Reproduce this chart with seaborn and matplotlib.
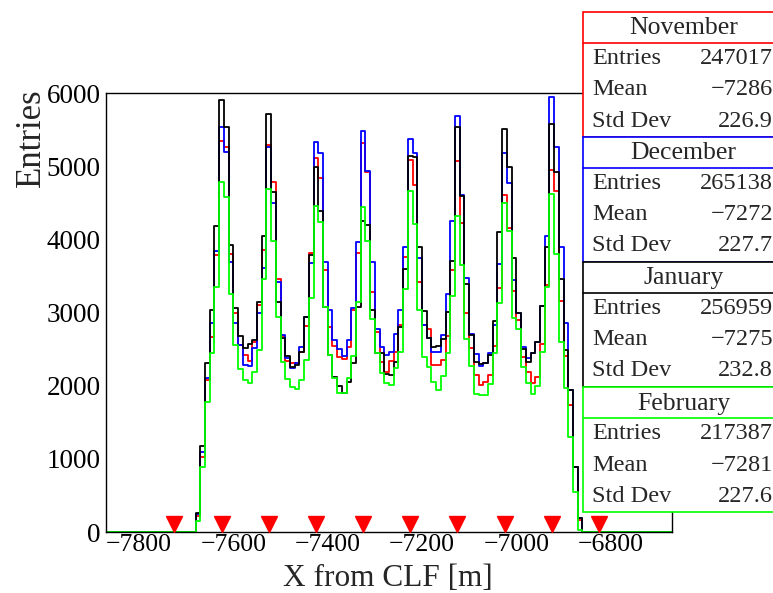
import numpy as np
import pandas as pd
import matplotlib
matplotlib.use("Agg")
import matplotlib.pyplot as plt
from matplotlib.patches import Rectangle
from matplotlib.ticker import MultipleLocator
import seaborn as sns

# ---------------- data ----------------
hist_range = (-7870, -6670)
bin_width = 10
first_filled_bin = -7680   # left edge of first non-empty bin

november = [
    220, 1030, 2080, 2670, 3785, 5350, 5265, 3800, 2990, 2555,
    2420, 2340, 2600, 3100, 3850, 5290, 4790, 3455, 2680, 2340,
    2305, 2305, 2465, 2815, 3810, 5115, 4835, 3580, 2805, 2545,
    2395, 2365, 2530, 3035, 3820, 5310, 4925, 3285, 2730, 2330,
    2190, 2340, 2465, 2830, 3765, 5085, 4745, 3420, 2830, 2770,
    2285, 2280, 2350, 2680, 3580, 5075, 4220, 2990, 2510, 2145,
    2010, 2055, 2145, 2540, 3330, 4605, 4150, 3300, 2900, 2395,
    2180, 2030, 2125, 2570, 3375, 4950, 4665, 3160, 2405, 1735,
    895, 165]
december = [
    240, 1100, 2100, 2850, 3845, 5530, 5200, 3695, 2850, 2555,
    2285, 2270, 2510, 2990, 3605, 5265, 4490, 3420, 2695, 2375,
    2235, 2315, 2525, 2945, 3680, 5325, 5175, 3695, 3035, 2625,
    2495, 2400, 2620, 3055, 3960, 5485, 4940, 3685, 2775, 2525,
    2420, 2465, 2700, 3035, 3890, 5365, 5175, 3740, 2830, 2645,
    2465, 2465, 2695, 3255, 4255, 5685, 4605, 3465, 2700, 2430,
    2270, 2305, 2440, 2830, 3665, 5185, 4765, 3445, 2990, 2535,
    2375, 2440, 2600, 3090, 4045, 5950, 5265, 3890, 2850, 1940,
    895, 185]
january = [
    260, 1175, 2310, 3040, 4180, 5905, 5540, 3925, 3055, 2680,
    2510, 2570, 2625, 3150, 4045, 5715, 4650, 3150, 2645, 2410,
    2250, 2285, 2465, 2945, 3785, 4985, 4390, 3080, 2420, 2120,
    1990, 1905, 2050, 2315, 3070, 4255, 4195, 3035, 2440, 2440,
    2160, 2145, 2330, 2805, 3590, 5140, 5120, 3900, 3025, 2645,
    2535, 2540, 2635, 3010, 3700, 5530, 4590, 3390, 2695, 2330,
    2295, 2315, 2420, 2885, 4105, 5505, 4985, 3740, 2990, 2495,
    2330, 2440, 2600, 3090, 3890, 5575, 4925, 3455, 2490, 1940,
    895, 185]
february = [
    150, 890, 1780, 2440, 3345, 4790, 4575, 3255, 2555, 2225,
    2075, 2030, 2190, 2490, 3460, 4685, 3980, 2945, 2330, 2085,
    1975, 1955, 2075, 2350, 3205, 4455, 4240, 3080, 2420, 2100,
    1895, 1895, 2100, 2400, 3145, 4440, 3980, 2905, 2440, 2170,
    2040, 2010, 2235, 2465, 3320, 4665, 4210, 3035, 2395, 2260,
    2055, 1940, 2130, 2450, 3230, 4320, 3650, 2635, 2270, 1885,
    1870, 1870, 2025, 2450, 3125, 4490, 4120, 2920, 2770, 2260,
    2040, 1885, 1995, 2465, 3345, 4620, 3800, 2600, 1965, 1295,
    550, 25]

months = ["November", "December", "January", "February"]
month_colors = ["#ff0000", "#0000ff", "#000000", "#00ff00"]
entries = ["247017", "265138", "256959", "217387"]
means = ["\u22127286", "\u22127272", "\u22127275", "\u22127281"]
std_devs = ["226.9", "227.7", "232.8", "227.6"]

marker_x = [-7725, -7625, -7525, -7425, -7325, -7225, -7125, -7025, -6925, -6825]

x_ticks = [-7800, -7600, -7400, -7200, -7000, -6800]
y_ticks = [0, 1000, 2000, 3000, 4000, 5000, 6000]

# ---------------- build histogram table ----------------
edges = np.arange(hist_range[0], hist_range[1] + bin_width, bin_width)
centers = edges[:-1] + bin_width / 2
start = int((first_filled_bin - hist_range[0]) // bin_width)

frames = []
for name, vals in zip(months, [november, december, january, february]):
    w = np.zeros(len(centers))
    w[start:start + len(vals)] = vals
    frames.append(pd.DataFrame({"x": centers, "w": w, "month": name}))
df = pd.concat(frames, ignore_index=True)

# ---------------- figure ----------------
sns.set_theme(style="white")
plt.rcParams["font.family"] = ["Liberation Serif", "DejaVu Serif"]
plt.rcParams["axes.unicode_minus"] = True

W, H = 773, 593
fig = plt.figure(figsize=(W / 100, H / 100), dpi=100)
ax_l, ax_r, ax_t, ax_b = 106, 672, 93, 532
ax = fig.add_axes([ax_l / W, 1 - ax_b / H, (ax_r - ax_l) / W, (ax_b - ax_t) / H])

bin_list = [float(e) for e in edges]
for name, col in zip(months, month_colors):
    sub = df[df["month"] == name]
    sns.histplot(data=sub, x="x", weights="w", bins=bin_list, element="step",
                 fill=False, color=col, linewidth=1.3, ax=ax)

ax.plot(marker_x, [105] * len(marker_x), linestyle="none", marker="v",
        color="#ff0000", markersize=11.5, clip_on=False, zorder=5)

ax.set_xlim(hist_range)
ax.set_ylim(0, 6000)
ax.set_xticks(x_ticks)
ax.set_yticks(y_ticks)
ax.xaxis.set_minor_locator(MultipleLocator(50))
ax.yaxis.set_minor_locator(MultipleLocator(200))
ax.tick_params(axis="both", which="both", direction="in", colors="black",
               labelsize=19.5, top=False, right=False)
ax.tick_params(axis="y", which="major", length=12, width=1, pad=4)
ax.tick_params(axis="y", which="minor", length=6.5, width=1)
ax.tick_params(axis="x", which="major", length=9, width=1, pad=1.5,
               labelsize=18.5)
ax.tick_params(axis="x", which="minor", length=5, width=1)
for s in ax.spines.values():
    s.set_color("black")
    s.set_linewidth(1)
ax.set_xlabel("")
ax.set_ylabel("")

fig.text(31 / W, 1 - 88 / H, "Entries", rotation=90, ha="center", va="top",
         fontsize=25)
fig.text(388 / W, 1 - 579 / H, "X from CLF [m]", ha="center", va="center",
         fontsize=22.5)

# ---------------- stat boxes ----------------
box_left = 582.7
box_tops = [12, 136.7, 261.7, 387.3]
box_h = 125
title_h = 31
row_h = 31.3
for i, (name, col) in enumerate(zip(months, month_colors)):
    top = box_tops[i]
    fig.patches.append(Rectangle((box_left / W, 1 - (top + box_h) / H),
                                 (800 - box_left) / W, box_h / H,
                                 transform=fig.transFigure, facecolor="white",
                                 edgecolor=col, linewidth=1.2, zorder=10))
    fig.lines.append(plt.Line2D([box_left / W, 800 / W],
                                [1 - (top + title_h) / H] * 2,
                                transform=fig.transFigure, color=col,
                                linewidth=1.2, zorder=11))
    fig.text(683.5 / W, 1 - (top + title_h / 2 + 1) / H, name, ha="center",
             va="center", fontsize=18.5, zorder=12)
    labels = ["Entries", "Mean", "Std Dev"]
    values = [entries[i], means[i], std_devs[i]]
    for j, (lab, val) in enumerate(zip(labels, values)):
        yc = top + title_h + row_h * (j + 0.5)
        fig.text(592 / W, 1 - yc / H, lab, ha="left", va="center",
                 fontsize=17.5, zorder=12)
        fig.text(773 / W, 1 - yc / H, val, ha="right", va="center",
                 fontsize=17.5, zorder=12)

fig.savefig("out.png", dpi=100)
